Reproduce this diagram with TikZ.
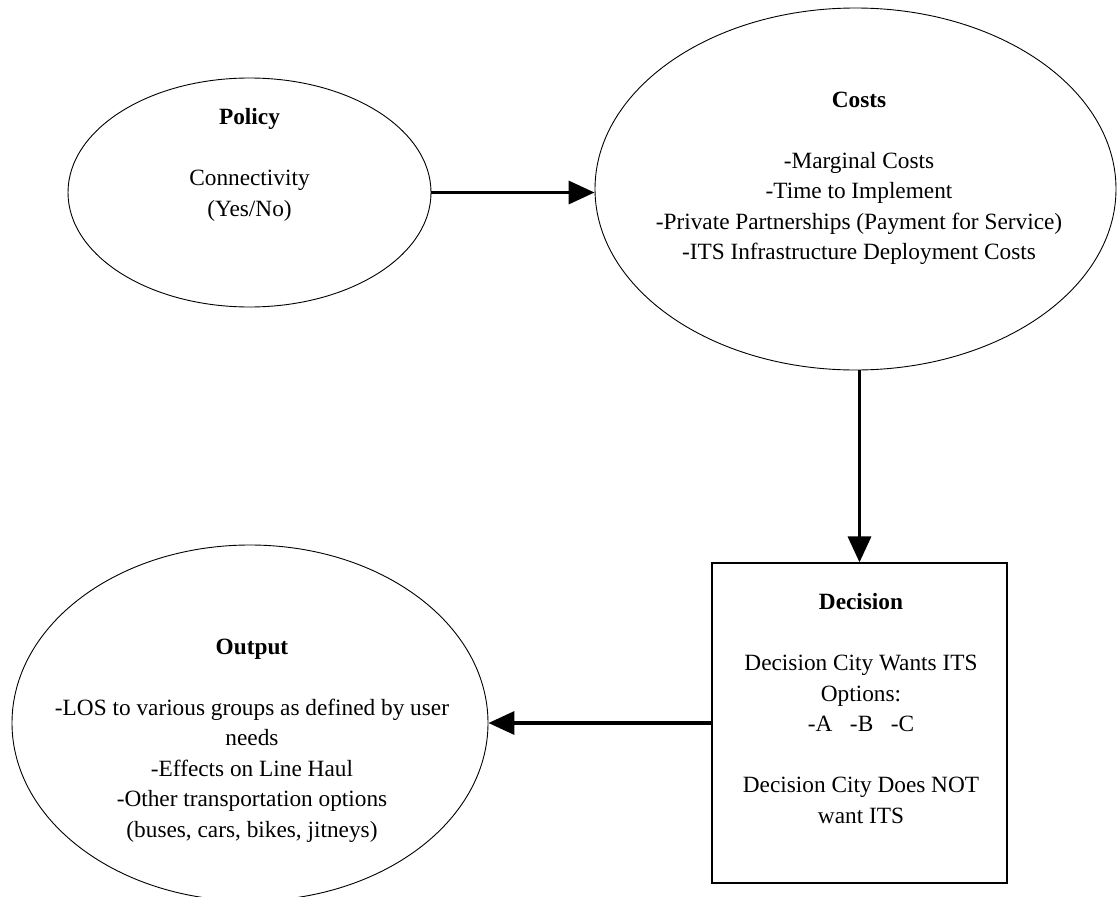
\documentclass[tikz,border=0pt]{standalone}
\usepackage{fontspec}
\setmainfont{Liberation Serif}
\usetikzlibrary{arrows.meta, shapes.geometric}

\begin{document}
\begin{tikzpicture}[x=1pt, y=-1pt,
    every node/.style={font=\fontsize{23.3}{30.5}\selectfont},
    oval/.style={ellipse, draw, line width=0.9pt, inner sep=0pt},
    txt/.style={align=center, anchor=north, inner sep=0pt},
    flow/.style={-{Triangle[length=26pt, width=23pt]}, line width=3.5pt}]

    \useasboundingbox (0,0) rectangle (1117,897);

    % Policy
    \node[oval, minimum width=363pt, minimum height=229pt] (policy) at (249.5,192.5) {};
    \node[txt] (policytxt) at (249.5,108.5) {\textbf{Policy}\\[30.5pt]Connectivity\\(Yes/No)};

    % Costs
    \node[oval, minimum width=521pt, minimum height=362pt] (costs) at (855.5,189) {};
    \node[txt] (coststxt) at (859,91.5) {\textbf{Costs}\\[30.5pt]-Marginal Costs\\-Time to Implement\\-Private Partnerships (Payment for Service)\\-ITS Infrastructure Deployment Costs};

    % Decision
    \node[draw, line width=1.2pt, minimum width=295pt, minimum height=320pt, inner sep=0pt] (decision) at (859.5,723) {};
    \node[txt] (decisiontxt) at (861,593.5) {\textbf{Decision}\\[30.5pt]Decision City Wants ITS\\Options:\\-A\hspace{0.75em}-B\hspace{0.75em}-C\\[30.5pt]Decision City Does NOT\\want ITS};

    % Output
    \node[oval, minimum width=476pt, minimum height=356pt] (output) at (250,723) {};
    \node[txt] (outputtxt) at (252,638.5) {\textbf{Output}\\[30.5pt]-LOS to various groups as defined by user\\needs\\-Effects on Line Haul\\-Other transportation options\\(buses, cars, bikes, jitneys)};

    % arrows
    \draw[flow] (policy.east) -- (policy.east -| costs.west);
    \draw[flow] (costs.south -| decision.north) -- (decision.north);
    \draw[flow] (decision.west) -- (output.east);

\end{tikzpicture}
\end{document}
